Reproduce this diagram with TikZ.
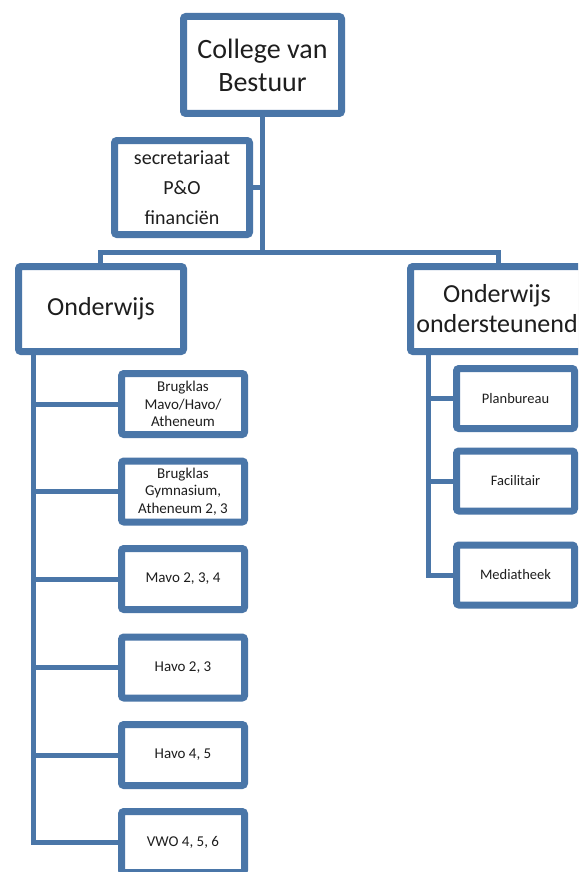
\documentclass[tikz,border=0pt]{standalone}
\usepackage{fontspec}
\setmainfont{Carlito}
\usetikzlibrary{shadows,backgrounds}
\definecolor{orgblue}{HTML}{4A76A8}
\definecolor{txt}{HTML}{1E1E1E}
\tikzset{
  box/.style={draw=orgblue, line width=7pt, fill=white, rounded corners=2.5pt,
    align=center, inner sep=0pt, text=txt,
    drop shadow={opacity=0.25, shadow xshift=1pt, shadow yshift=-2.5pt}},
  conn/.style={draw=orgblue, line width=5pt},
  topbox/.style={box, minimum width=158pt, minimum height=97pt,
    font=\fontsize{28}{33}\selectfont},
  secbox/.style={box, minimum width=135pt, minimum height=94pt,
    font=\fontsize{20}{30}\selectfont},
  headbox/.style={box, minimum width=165pt, minimum height=85pt,
    font=\fontsize{26}{30}\selectfont},
  lchild/.style={box, minimum width=123pt, minimum height=61pt,
    font=\fontsize{15}{17.5}\selectfont},
  rchild/.style={box, minimum width=118pt, minimum height=60pt,
    font=\fontsize{14.5}{17}\selectfont}
}
\begin{document}
\begin{tikzpicture}[x=1pt,y=-1pt]
\useasboundingbox (0,0) rectangle (578,872);
\clip (0,0) rectangle (578,872);

\node[topbox] (top) at (262.5,65) {College van\\Bestuur};
\node[secbox] (sec) at (182,187.5) {secretariaat\\P\&O\\financiën};
\node[headbox] (ond) at (101,309) {Onderwijs};
\node[headbox, minimum width=173pt] (ondst) at (497,309) {Onderwijs\\ondersteunend};

\node[lchild] (l1) at (183,404) {Brugklas\\Mavo/Havo/\\Atheneum};
\node[lchild] (l2) at (183,491.5) {Brugklas\\Gymnasium,\\Atheneum 2, 3};
\node[lchild] (l3) at (183,579) {Mavo 2, 3, 4};
\node[lchild] (l4) at (183,667.5) {Havo 2, 3};
\node[lchild] (l5) at (183,755) {Havo 4, 5};
\node[lchild] (l6) at (183,842) {VWO 4, 5, 6};

\node[rchild] (r1) at (515.5,398.5) {Planbureau};
\node[rchild] (r2) at (515.5,481) {Facilitair};
\node[rchild] (r3) at (515.5,575) {Mediatheek};

\coordinate (busL) at (100,252);
\coordinate (busR) at (498,252);
\coordinate (spL) at (33,0);
\coordinate (spR) at (428,0);

\begin{scope}[on background layer]
  \fill[white] (0,0) rectangle (578,872);
  \draw[conn] (top.south) -- (top.south |- busL);
  \draw[conn] (sec.east) -- (sec.east -| top.south);
  \draw[conn] (busL |- ond.north) -- (busL) -- (busR) -- (busR |- ondst.north);
  \draw[conn] (spL |- ond.south) -- (spL |- l6.west) -- (l6.west);
  \foreach \n in {l1,l2,l3,l4,l5} \draw[conn] (spL |- \n.west) -- (\n.west);
  \draw[conn] (spR |- ondst.south) -- (spR |- r3.west) -- (r3.west);
  \foreach \n in {r1,r2} \draw[conn] (spR |- \n.west) -- (\n.west);
\end{scope}
\end{tikzpicture}
\end{document}
